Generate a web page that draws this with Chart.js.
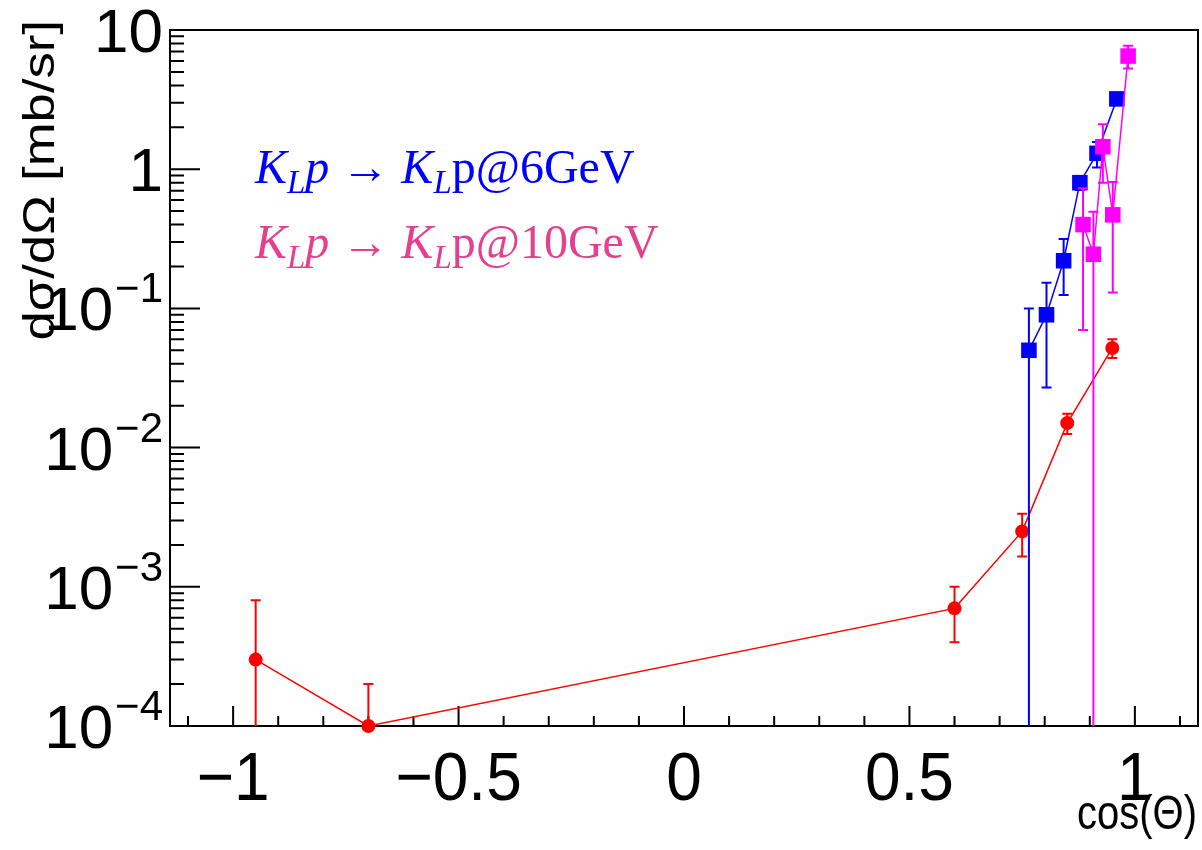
<!DOCTYPE html>
<html>
<head>
<meta charset="utf-8">
<script src="https://cdn.jsdelivr.net/npm/chart.js@4.4.1/dist/chart.umd.min.js"></script>
<style>
  html, body { margin: 0; padding: 0; background: #fff; }
  canvas { display: block; }
</style>
</head>
<body>
<canvas id="c" width="1202" height="850"></canvas>
<script>
// --- data ---
const redX   = [-0.95, -0.7, 0.6, 0.75, 0.85, 0.95];
const redY   = [3e-4, 1e-4, 7e-4, 2.5e-3, 0.015, 0.052];
const redErr = [5e-4, 1e-4, 3e-4, 0.85e-3, 0.0025, 0.008];

const blueX   = [0.765, 0.804, 0.842, 0.878, 0.916, 0.96];
const blueY   = [0.05, 0.09, 0.22, 0.8, 1.3, 3.2];
const blueErr = [0.05, 0.063, 0.095, 0.09, 0.27, 0.3];

const magX   = [0.885, 0.908, 0.929, 0.951, 0.985];
const magY   = [0.4, 0.245, 1.45, 0.47, 6.5];
const magErr = [0.33, 0.25, 0.65, 0.34, 1.2];

const xTicks  = [-1, -0.5, 0, 0.5, 1];
const xLabels = ['\u22121', '\u22120.5', '0', '0.5', '1'];
const yTicks  = [10, 1, 0.1, 0.01, 0.001, 0.0001];
const yBase   = ['10', '1', '10', '10', '10', '10'];
const yExp    = ['', '', '\u22121', '\u22122', '\u22123', '\u22124'];

const X_MIN = -1.14, X_MAX = 1.14, Y_MIN = 1e-4, Y_MAX = 10;

const pts = (xs, ys) => xs.map((x, i) => ({ x, y: ys[i] }));

// --- error bars, drawn under each dataset's markers ---
const errorBars = {
  id: 'errorBars',
  beforeDatasetDraw(chart, args) {
    const ds = chart.data.datasets[args.index];
    const xs = chart.scales.x, ys = chart.scales.y, a = chart.chartArea;
    const ctx = chart.ctx;
    ctx.save();
    ctx.beginPath();
    ctx.rect(a.left, a.top - 30, a.right - a.left, a.bottom - a.top + 30);
    ctx.clip();
    ctx.strokeStyle = ds.borderColor;
    ctx.lineWidth = 2;
    ds.data.forEach((p, i) => {
      const e = ds.err[i];
      const px = xs.getPixelForValue(p.x);
      const lo = p.y - e, hi = p.y + e;
      const yHi = ys.getPixelForValue(hi);
      const loIn = lo > Y_MIN;
      const yLo = loIn ? ys.getPixelForValue(lo) : a.bottom;
      ctx.beginPath();
      ctx.moveTo(px, yHi); ctx.lineTo(px, yLo);
      ctx.moveTo(px - 5, yHi); ctx.lineTo(px + 5, yHi);
      if (loIn) { ctx.moveTo(px - 5, yLo); ctx.lineTo(px + 5, yLo); }
      ctx.stroke();
    });
    ctx.restore();
  }
};

// --- ROOT-like frame with inner ticks ---
const frame = {
  id: 'frame',
  beforeDatasetsDraw(chart) {
    const ctx = chart.ctx, a = chart.chartArea;
    const xs = chart.scales.x, ys = chart.scales.y;
    ctx.save();
    ctx.strokeStyle = '#000';
    ctx.lineWidth = 2;
    ctx.strokeRect(a.left, a.top, a.right - a.left, a.bottom - a.top);
    ctx.beginPath();
    for (let k = -11; k <= 11; k++) {
      const v = k / 10;
      const px = xs.getPixelForValue(v);
      const len = (k % 5 === 0) ? 20 : 10;
      ctx.moveTo(px, a.bottom); ctx.lineTo(px, a.bottom - len);
    }
    for (let d = -4; d <= 0; d++) {
      for (let m = 1; m <= 9; m++) {
        const py = ys.getPixelForValue(m * Math.pow(10, d));
        const len = m === 1 ? 30 : 14;
        ctx.moveTo(a.left, py); ctx.lineTo(a.left + len, py);
      }
    }
    ctx.stroke();
    ctx.restore();
  },
  afterDraw(chart) {
    const ctx = chart.ctx, a = chart.chartArea;
    const xs = chart.scales.x, ys = chart.scales.y;
    const sans = '"Liberation Sans", Arial, sans-serif';
    ctx.save();
    ctx.fillStyle = '#000';
    ctx.textBaseline = 'alphabetic';

    // x tick labels
    ctx.textAlign = 'center';
    xTicks.forEach((v, i) => {
      ctx.save();
      ctx.translate(xs.getPixelForValue(v), 800);
      ctx.scale(1, 1.08);
      ctx.font = '64px ' + sans;
      ctx.fillText(xLabels[i], 0, 0);
      ctx.restore();
    });

    // y tick labels with superscripts
    yTicks.forEach((v, i) => {
      const py = ys.getPixelForValue(v);
      let right = a.left - 7;
      if (yExp[i]) {
        ctx.font = '42px ' + sans;
        ctx.textAlign = 'right';
        ctx.fillText(yExp[i], right, py - 6);
        right -= ctx.measureText(yExp[i]).width + 2;
      }
      ctx.font = '62px ' + sans;
      ctx.textAlign = 'right';
      ctx.fillText(yBase[i], right, py + 22);
    });

    // axis titles
    ctx.save();
    ctx.translate(a.right - 1, 829);
    ctx.scale(1, 1.2);
    ctx.font = '40px ' + sans;
    ctx.textAlign = 'right';
    ctx.fillText('cos(\u0398)', 0, 0);
    ctx.restore();

    ctx.save();
    ctx.translate(54, 20);
    ctx.rotate(-Math.PI / 2);
    ctx.scale(1.17, 1);
    ctx.font = '45px ' + sans;
    ctx.textAlign = 'right';
    ctx.fillText('d\u03c3/d\u03a9 [mb/sr]', 0, 0);
    ctx.restore();

    // reaction labels
    const serif = '"Liberation Serif", "Times New Roman", serif';
    const it = 'italic 48px ' + serif, sub = 'italic 33px ' + serif, reg = '48px ' + serif;
    const rich = (parts, x, y, color) => {
      ctx.fillStyle = color;
      ctx.textAlign = 'left';
      let cx = x;
      parts.forEach(([s, f, dy]) => {
        ctx.font = f;
        ctx.fillText(s, cx, y + (dy || 0));
        cx += ctx.measureText(s).width;
      });
    };
    const reaction = tail => [['K', it], ['L', sub, 10], ['p', it], [' \u2192 ', reg],
                              ['K', it], ['L', sub, 10], [tail, reg]];
    rich(reaction('p@6GeV'), 255, 183, '#0000ff');
    rich(reaction('p@10GeV'), 255, 258, '#e6408c');
    ctx.restore();
  }
};

const ds = (label, xs, ys, err, color, style, r) => ({
  label, data: pts(xs, ys), err,
  showLine: true, borderColor: color, backgroundColor: color,
  borderWidth: 1.5, pointStyle: style, pointRadius: r,
  pointBorderWidth: 0, pointHoverRadius: r, clip: false
});

new Chart(document.getElementById('c'), {
  type: 'scatter',
  data: {
    datasets: [
      ds('KLp 10 GeV', magX, magY, magErr, '#ff00ff', 'rect', 11),
      ds('KLp 6 GeV', blueX, blueY, blueErr, '#0000ff', 'rect', 11),
      ds('data', redX, redY, redErr, '#ff0000', 'circle', 7)
    ]
  },
  options: {
    responsive: false,
    animation: false,
    devicePixelRatio: 1,
    layout: { autoPadding: false, padding: { left: 170, top: 30, right: 4, bottom: 124 } },
    plugins: { legend: { display: false }, tooltip: { enabled: false } },
    scales: {
      x: {
        type: 'linear', min: X_MIN, max: X_MAX,
        grid: { display: false, drawTicks: false },
        border: { display: false },
        ticks: { display: false },
        afterBuildTicks: s => { s.ticks = xTicks.map(value => ({ value })); }
      },
      y: {
        type: 'logarithmic', min: Y_MIN, max: Y_MAX,
        grid: { display: false, drawTicks: false },
        border: { display: false },
        ticks: { display: false },
        afterBuildTicks: s => { s.ticks = yTicks.map(value => ({ value })); }
      }
    }
  },
  plugins: [errorBars, frame]
});
</script>
</body>
</html>
